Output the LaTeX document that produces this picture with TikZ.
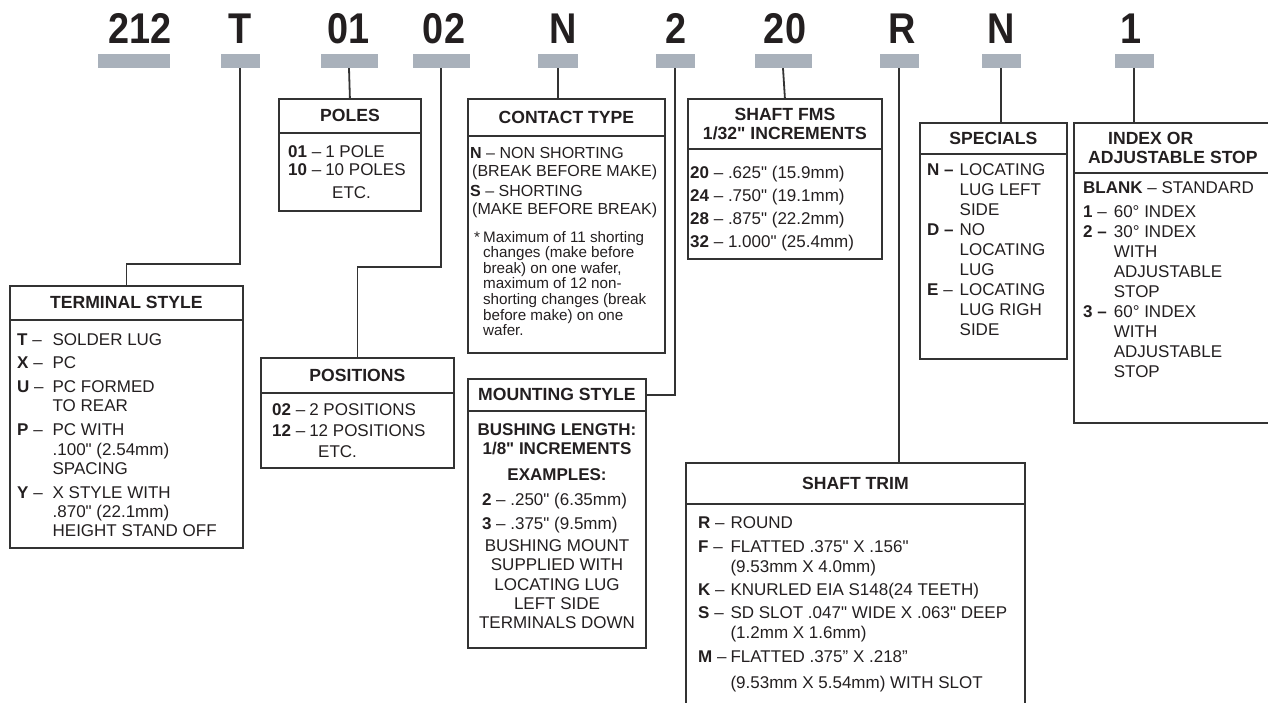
\documentclass[tikz,border=0pt]{standalone}
\usepackage{fontspec}
\setmainfont{Liberation Sans}[Ligatures=TeXOff]
\newfontfamily\codfont[FakeStretch=0.88]{Liberation Sans}
\usepackage{xcolor}
\usepackage{tikz}
\usetikzlibrary{positioning}
\definecolor{tinta}{HTML}{231F20}
\definecolor{traco}{HTML}{333333}
\definecolor{cinza}{HTML}{A9B1BB}
\newcommand{\op}[1]{\textbf{#1} –}
\tikzset{
  caixa/.style={draw=traco, line width=1.8pt, anchor=north west, inner sep=0pt, minimum width=#1},
  cabeca/.style={caixa=#1, align=center, font=\fontsize{17.6}{19.5}\selectfont\bfseries},
  lista/.style={anchor=base west, inner sep=0pt, font=\fontsize{17}{20}\selectfont},
  fio/.style={draw=traco, line width=1.8pt},
}

\begin{document}
\begin{tikzpicture}[
    x=1pt, y=-1pt, text=tinta,
    codigo/.style={anchor=base, inner sep=0pt, font=\codfont\bfseries\fontsize{43}{43}\selectfont},
    tarja/.style={fill=cinza, minimum width=#1, minimum height=14, inner sep=0pt},
  ]
  \useasboundingbox (0,0) rectangle (1268,702);

  % codigo do pedido
  \node[codigo] (c212) at (140,43) {212};
  \node[codigo] (cT) at (240,43) {T};
  \node[codigo] (c01) at (349,43) {01};
  \node[codigo] (c02) at (444,43) {02};
  \node[codigo] (cN) at (563,43) {N};
  \node[codigo] (c2) at (676,43) {2};
  \node[codigo] (c20) at (785,43) {20};
  \node[codigo] (cR) at (902,43) {R};
  \node[codigo] (cN2) at (1001,43) {N};
  \node[codigo] (c1) at (1131,43) {1};

  \node[tarja=72] (t212) at (134,61) {};
  \node[tarja=39] (tT) at (240,61) {};
  \node[tarja=57] (t01) at (349,61) {};
  \node[tarja=57] (t02) at (441,61) {};
  \node[tarja=40] (tN) at (558,61) {};
  \node[tarja=39] (t2) at (675,61) {};
  \node[tarja=57] (t20) at (783,61) {};
  \node[tarja=39] (tR) at (899,61) {};
  \node[tarja=39] (tN2) at (1001,61) {};
  \node[tarja=39] (t1) at (1134,61) {};

  % terminal style
  \node[caixa=233, minimum height=262] (ts) at (9,285) {};
  \node[cabeca=233, minimum height=34] (tscab) at (9,285) {TERMINAL STYLE};
  \node[lista, font=\fontsize{17}{19.3}\selectfont] (tslis) at (17,345) {\begin{tabular}[t]{@{}l@{\hspace{9pt}}l@{}}
    \op{T} & SOLDER LUG\\[4.5pt]
    \op{X} & PC\\[4.5pt]
    \op{U} & PC FORMED\\
           & TO REAR\\[4.5pt]
    \op{P} & PC WITH\\
           & .100" (2.54mm)\\
           & SPACING\\[4.5pt]
    \op{Y} & X STYLE WITH\\
           & .870" (22.1mm)\\
           & HEIGHT STAND OFF
  \end{tabular}};

  % poles
  \node[caixa=142, minimum height=112] (pl) at (278,98) {};
  \node[cabeca=142, minimum height=34] (plcab) at (278,98) {POLES};
  \node[lista, font=\fontsize{17}{18.5}\selectfont] (pllis) at (288,157) {\begin{tabular}[t]{@{}l@{\hspace{4pt}}l@{}}
    \op{01} & 1 POLE\\
    \op{10} & 10 POLES\\[4.5pt]
    \multicolumn{2}{@{}l@{}}{\hspace*{44pt}ETC.}
  \end{tabular}};

  % positions
  \node[caixa=193, minimum height=110] (ps) at (260,357) {};
  \node[cabeca=193, minimum height=35] (pscab) at (260,357) {POSITIONS};
  \node[lista, font=\fontsize{17}{21}\selectfont] (pslis) at (272,415) {\begin{tabular}[t]{@{}l@{\hspace{4pt}}l@{}}
    \op{02} & 2 POSITIONS\\
    \op{12} & 12 POSITIONS\\
    \multicolumn{2}{@{}l@{}}{\hspace*{46pt}ETC.}
  \end{tabular}};

  % contact type
  \node[caixa=197, minimum height=254] (ct) at (467,98) {};
  \node[cabeca=197, minimum height=37] (ctcab) at (467,98) {CONTACT TYPE};
  \node[lista, font=\fontsize{16}{18.2}\selectfont] (ctlis) at (470,158) {\begin{tabular}[t]{@{}l@{}}
    \textbf{N} – NON SHORTING\\
    \hspace*{2pt}(BREAK BEFORE MAKE)\\[2pt]
    \textbf{S} – SHORTING\\
    \hspace*{2pt}(MAKE BEFORE BREAK)
  \end{tabular}};
  \node[lista, font=\fontsize{15.2}{15.5}\selectfont] (ctnota) at (474,242) {\begin{tabular}[t]{@{}l@{\hspace{3pt}}l@{}}
    * & Maximum of 11 shorting\\
      & changes (make before\\
      & break) on one wafer,\\
      & maximum of 12 non-\\
      & shorting changes (break\\
      & before make) on one\\
      & wafer.
  \end{tabular}};

  % mounting style
  \node[caixa=178, minimum height=269] (mt) at (467,378) {};
  \node[cabeca=178, minimum height=32] (mtcab) at (467,378) {MOUNTING STYLE};
  \node[lista, anchor=base, font=\fontsize{17}{19.3}\selectfont] (mtlis) at (557,435) {\begin{tabular}[t]{@{}c@{}}
    \textbf{BUSHING LENGTH:}\\
    \textbf{1/8" INCREMENTS}\\[7pt]
    \textbf{EXAMPLES:}\\[6pt]
    \makebox[150pt][l]{\textbf{2} – .250" (6.35mm)}\\[4pt]
    \makebox[150pt][l]{\textbf{3} – .375" (9.5mm)}\\[3pt]
    BUSHING MOUNT\\
    SUPPLIED WITH\\
    LOCATING LUG\\
    LEFT SIDE\\
    TERMINALS DOWN
  \end{tabular}};

  % shaft fms
  \node[caixa=194, minimum height=160] (fms) at (687,98) {};
  \node[cabeca=194, minimum height=50] (fmscab) at (687,98) {SHAFT FMS\\1/32" INCREMENTS};
  \node[lista, font=\fontsize{17}{23}\selectfont] (fmslis) at (690,178) {\begin{tabular}[t]{@{}l@{}}
    \textbf{20} – .625" (15.9mm)\\
    \textbf{24} – .750" (19.1mm)\\
    \textbf{28} – .875" (22.2mm)\\
    \textbf{32} – 1.000" (25.4mm)
  \end{tabular}};

  % shaft trim
  \node[caixa=339, minimum height=270] (tr) at (685,462) {};
  \node[cabeca=339, minimum height=41] (trcab) at (685,462) {SHAFT TRIM};
  \node[lista] (trlis) at (698,528) {\begin{tabular}[t]{@{}l@{\hspace{4pt}}l@{}}
    \op{R} & ROUND\\[4pt]
    \op{F} & FLATTED .375" X .156"\\
           & (9.53mm X 4.0mm)\\[3pt]
    \op{K} & KNURLED EIA S148(24 TEETH)\\[3pt]
    \op{S} & SD SLOT .047" WIDE X .063" DEEP\\
           & (1.2mm X 1.6mm)\\[4pt]
    \op{M} & FLATTED .375” X .218”\\[6pt]
           & (9.53mm X 5.54mm) WITH SLOT
  \end{tabular}};

  % specials
  \node[caixa=147, minimum height=236] (sp) at (919,122) {};
  \node[cabeca=147, minimum height=31] (spcab) at (919,122) {SPECIALS};
  \node[lista] (splis) at (927,175) {\begin{tabular}[t]{@{}l@{\hspace{6pt}}l@{}}
    \textbf{N –} & LOCATING\\
                 & LUG LEFT\\
                 & SIDE\\
    \textbf{D –} & NO\\
                 & LOCATING\\
                 & LUG\\
    \op{E}       & LOCATING\\
                 & LUG RIGH\\
                 & SIDE
  \end{tabular}};

  % index or adjustable stop
  \node[caixa=198, minimum height=300] (ix) at (1073,122) {};
  \node[cabeca=198, minimum height=50, align=left] (ixcab) at (1073,122) {\hspace*{20pt}INDEX OR\\ADJUSTABLE STOP};
  \node[lista] (ixlis) at (1083,193) {\begin{tabular}[t]{@{}l@{\hspace{7pt}}l@{}}
    \multicolumn{2}{@{}l@{}}{\textbf{BLANK} – STANDARD}\\[4pt]
    \op{1}       & 60° INDEX\\
    \textbf{2 –} & 30° INDEX\\
                 & WITH\\
                 & ADJUSTABLE\\
                 & STOP\\
    \textbf{3 –} & 60° INDEX\\
                 & WITH\\
                 & ADJUSTABLE\\
                 & STOP
  \end{tabular}};

  % ligacoes
  \draw[fio] (tT.south) |- ([yshift=21pt]ts.north) -- (ts.north);
  \draw[fio] (t01.south) -- (pl.north);
  \draw[fio] (t02.south) |- ([yshift=90pt]ps.north) -- (ps.north);
  \draw[fio] (tN.south) -- (tN.south |- ct.north);
  \draw[fio] (t2.south) |- (mtcab.east);
  \draw[fio] (t20.south) -- (fms.north);
  \draw[fio] (tR.south) -- (tR.south |- tr.north);
  \draw[fio] (tN2.south) -- (tN2.south |- sp.north);
  \draw[fio] (t1.south) -- (t1.south |- ix.north);
\end{tikzpicture}
\end{document}
